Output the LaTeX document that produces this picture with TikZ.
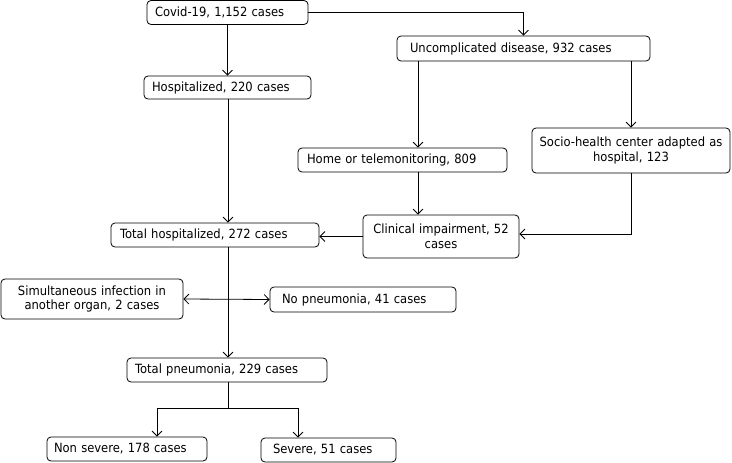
\documentclass[tikz,border=0pt]{standalone}
\usepackage{fontspec}
\setmainfont{DejaVu Sans}[FakeStretch=0.91]
\usetikzlibrary{arrows.meta}
\tikzset{
  box/.style={draw, rounded corners=4pt, line width=0.8pt, inner ysep=0pt,
    font=\fontsize{12.7}{14.5}\selectfont},
  L/.style n args={3}{minimum width=#1pt, minimum height=#2pt, inner xsep=#3pt, text width=#1pt-2*#3pt, align=left},
  C/.style n args={2}{minimum width=#1pt, minimum height=#2pt, inner xsep=4pt, text width=#1pt-8pt, align=center},
  arr/.style={-{Straight Barb[length=5pt,width=10pt]}, line width=0.8pt},
  ln/.style={line width=0.8pt},
  dbl/.style={{Straight Barb[length=5pt,width=10pt]}-{Straight Barb[length=5pt,width=10pt]}, line width=0.8pt}
}
\begin{document}
\begin{tikzpicture}[x=1pt,y=-1pt]
\useasboundingbox (0,0) rectangle (732,463);
\node[box, L={161}{24}{8}] (covid) at (227.5,12.5) {Covid-19, 1,152 cases};
\node[box, L={167}{23}{8}] (hosp) at (227.5,87.5) {Hospitalized, 220 cases};
\node[box, L={253}{25}{13}] (unc) at (523.5,48.5) {Uncomplicated disease, 932 cases};
\node[box, L={209}{24}{9}] (home) at (402.5,160) {Home or telemonitoring, 809};
\node[box, C={198}{45}] (socio) at (631,150.5) {Socio-health center adapted as\\hospital, 123};
\node[box, C={156}{43}] (clin) at (441,236.5) {Clinical impairment, 52\\cases};
\node[box, L={208}{24}{9}] (toth) at (215,235) {Total hospitalized, 272 cases};
\node[box, C={182}{40}] (simul) at (92,299) {Simultaneous infection in\\another organ, 2 cases};
\node[box, L={186}{25}{12}] (nopn) at (363,299.5) {No pneumonia, 41 cases};
\node[box, L={200}{24}{8}] (totp) at (227,370) {Total pneumonia, 229 cases};
\node[box, L={160}{24}{7}] (nons) at (127,449) {Non severe, 178 cases};
\node[box, L={135}{24}{12}] (sev) at (328.5,450) {Severe, 51 cases};

\coordinate (c1) at (418,0);
\coordinate (c2) at (228,0);
\coordinate (j) at (228,408);
\coordinate (bl) at (157,408);
\coordinate (br) at (298,408);

\draw[arr] (covid.south) -- (hosp.north);
\draw[arr] (covid.east) -| (unc.north);
\draw[arr] (c2 |- hosp.south) -- (c2 |- toth.north);
\draw[arr] (c1 |- unc.south) -- (c1 |- home.north);
\draw[arr] (socio.north |- unc.south) -- (socio.north);
\draw[arr] (c1 |- home.south) -- (c1 |- clin.north);
\draw[arr] (socio.south) |- ([yshift=2.5pt]clin.east);
\draw[arr] (clin.west) -- (clin.west -| toth.east);
\draw[dbl] (simul.east) -- (nopn.west);
\draw[arr] (c2 |- toth.south) -- (c2 |- totp.north);
\draw[ln] (c2 |- totp.south) -- (j);
\draw[ln] (bl) -- (br);
\draw[arr] (bl) -- (bl |- nons.north);
\draw[arr] (br) -- (br |- sev.north);
\end{tikzpicture}
\end{document}
